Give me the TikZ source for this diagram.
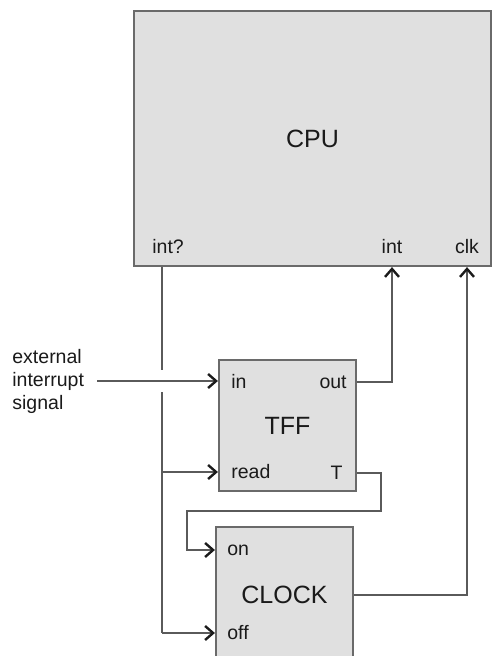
\documentclass[tikz,border=0pt]{standalone}
\usepackage{fontspec}
\setmainfont{Liberation Sans}
\usetikzlibrary{positioning,arrows.meta,calc}
\definecolor{boxfill}{HTML}{E0E0E0}
\definecolor{boxline}{HTML}{6A6A6A}
\definecolor{wirecol}{HTML}{5A5A5A}
\definecolor{txt}{HTML}{1A1A1A}

\begin{document}
\begin{tikzpicture}[x=0.5pt,y=-0.5pt,
  box/.style={draw=boxline, fill=boxfill, line width=1.1pt, inner sep=0pt,
    text=txt, font=\fontsize{12.5}{15}\selectfont},
  port/.style={inner sep=0pt, text=txt, font=\fontsize{9.75}{11.5}\selectfont},
  wire/.style={draw=wirecol, line width=0.9pt},
  arr/.style={-{Straight Barb[length=4pt,width=7pt,line width=1.2pt,color=txt]}}]
  \clip (0,0) rectangle (493,656);

  % blocks
  \node[box, minimum width=178.5pt, minimum height=127.5pt] (cpu) at (312.5,138.5) {CPU};
  \node[box, minimum width=68.5pt, minimum height=65.5pt] (tff) at (287.5,425.5) {TFF};
  \node[box, minimum width=68.5pt, minimum height=68pt] (clock) at (284.5,595) {CLOCK};

  % port labels
  \node[port, anchor=west] (intql) at (152,247) {int?};
  \node[port] (intl) at (392,247) {int};
  \node[port] (clkl) at (467,247) {clk};
  \node[port, anchor=west] (inl) at (231,381) {in};
  \node[port, anchor=east] (outl) at (347,382) {out};
  \node[port, anchor=west] (readl) at (231,472) {read};
  \node[port, anchor=east] (tl) at (343,473) {T};
  \node[port, anchor=west] (onl) at (227,550) {on};
  \node[port, anchor=west] (offl) at (227,633) {off};
  \node[port, anchor=west, align=left] (ext) at (12,381) {external\\interrupt\\signal};

  % junctions on the int? line
  \coordinate (jr) at (162,472);
  \coordinate (jo) at (162,633);

  % connectors
  \draw[wire] (cpu.south -| jr) -- ($(jr |- inl)+(0,-11)$)
              ($(jr |- inl)+(0,11)$) -- (jo);
  \draw[wire,arr] (jr) -- (tff.west |- readl);
  \draw[wire,arr] (jo) -- (clock.west |- offl);
  \draw[wire,arr] (ext.east |- inl) ++(13,0) -- (tff.west |- inl);
  \draw[wire,arr] (tff.east |- outl) -| (intl |- cpu.south);
  \draw[wire,arr] (tff.east |- tl) -- ++(24,0) -- ++(0,38) -| ++(-194,39)
                  -- (clock.west |- onl);
  \draw[wire,arr] (clock.east) -| (clkl |- cpu.south);
\end{tikzpicture}
\end{document}
